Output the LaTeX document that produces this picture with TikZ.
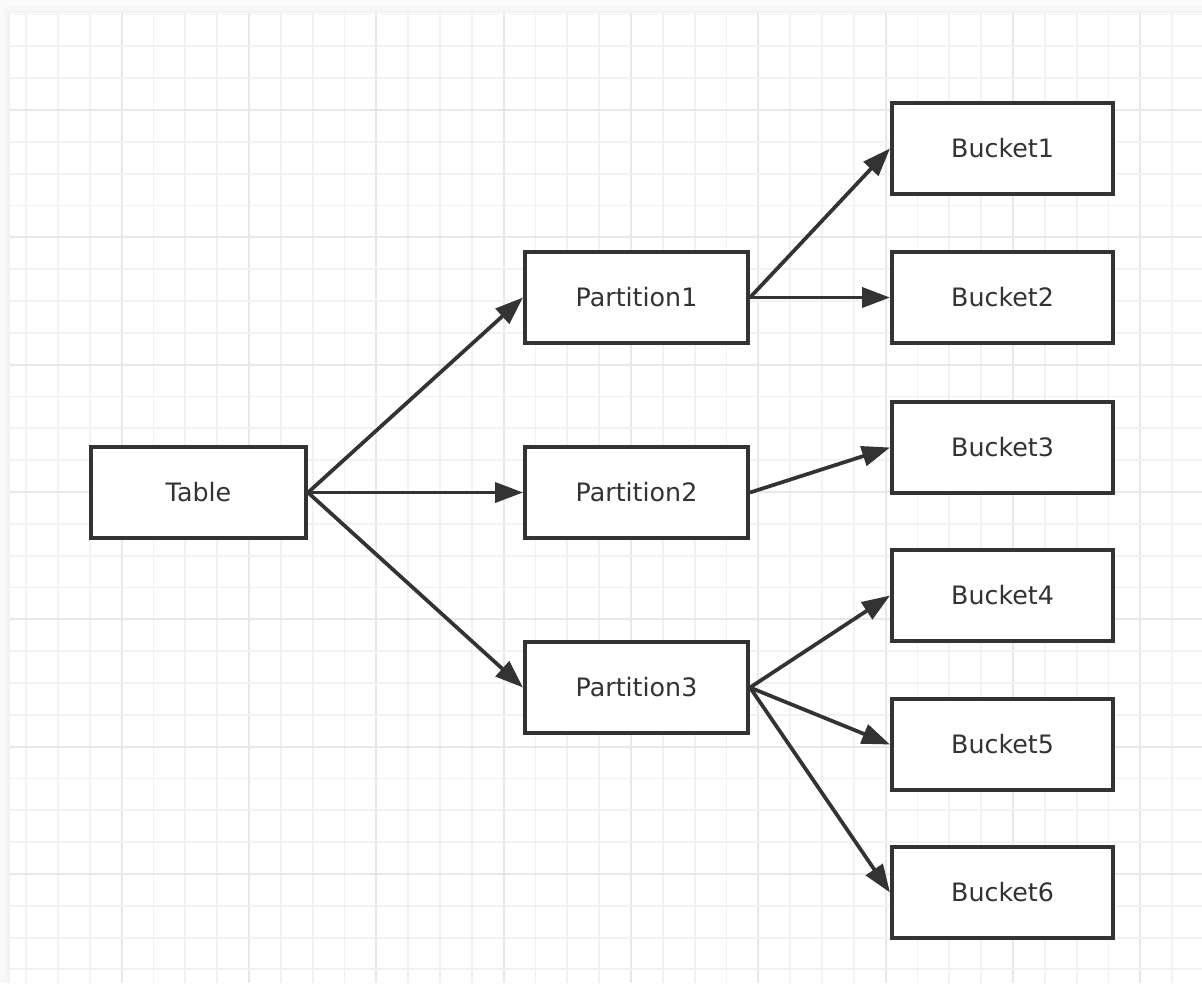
\documentclass[tikz,border=0pt]{standalone}
\usepackage{fontspec}
\setmainfont{DejaVu Sans}
\usetikzlibrary{arrows.meta}
\definecolor{ink}{HTML}{333333}
\definecolor{gridminor}{HTML}{F2F2F2}
\definecolor{gridmajor}{HTML}{E8E8E8}
\tikzset{
  box/.style={draw=ink, line width=3pt, fill=white, text=ink,
    minimum height=68.25pt, inner sep=0pt,
    font=\fontsize{19}{22}\selectfont},
  tablebox/.style={box, minimum width=161.25pt},
  partbox/.style={box, minimum width=167.25pt},
  bucketbox/.style={box, minimum width=165.75pt},
  link/.style={draw=ink, line width=2.8pt,
    -{Triangle[length=21pt,width=15pt]}},
}
\begin{document}
\begin{tikzpicture}[x=0.75pt, y=-0.75pt]
  \useasboundingbox (0,0) rectangle (1202,983);
  % page backdrop and the soft shadow along the canvas edges
  \fill[gray!4] (0,0) rectangle (1202,983);
  \fill[gray!6] (4,6) rectangle (1202,983);
  \fill[gray!9] (7,10) rectangle (1202,983);
  \fill[gray!12] (9,12) rectangle (1202,983);
  % canvas
  \fill[white] (10,13) rectangle (1202,983);
  \begin{scope}
    \clip (10,13) rectangle (1202,983);
    \foreach \i in {0,...,37} {
      \pgfmathsetmacro{\gx}{26.2+31.83*\i}
      \pgfmathtruncatemacro{\maj}{mod(\i+1,4)==0}
      \ifnum\maj=1
        \draw[gridmajor, line width=1.6pt] (\gx,13) -- (\gx,983);
      \else
        \draw[gridminor, line width=1.4pt] (\gx,13) -- (\gx,983);
      \fi
    }
    \foreach \j in {0,...,30} {
      \pgfmathsetmacro{\gy}{14.5+31.83*\j}
      \pgfmathtruncatemacro{\maj}{mod(\j+1,4)==0}
      \ifnum\maj=1
        \draw[gridmajor, line width=1.6pt] (10,\gy) -- (1202,\gy);
      \else
        \draw[gridminor, line width=1.4pt] (10,\gy) -- (1202,\gy);
      \fi
    }
  \end{scope}

  % boxes
  \node[tablebox] (table) at (198.5,492.5) {Table};
  \node[partbox] (p1) at (636.5,297.5) {Partition1};
  \node[partbox] (p2) at (636.5,492.5) {Partition2};
  \node[partbox] (p3) at (636.5,687.5) {Partition3};
  \node[bucketbox] (b1) at (1002.5,148.5) {Bucket1};
  \node[bucketbox] (b2) at (1002.5,297.5) {Bucket2};
  \node[bucketbox] (b3) at (1002.5,447.5) {Bucket3};
  \node[bucketbox] (b4) at (1002.5,595.5) {Bucket4};
  \node[bucketbox] (b5) at (1002.5,744.5) {Bucket5};
  \node[bucketbox] (b6) at (1002.5,892.5) {Bucket6};

  % connectors
  \draw[link] (table.east) -- (p1.west);
  \draw[link] (table.east) -- (p2.west);
  \draw[link] (table.east) -- (p3.west);
  \draw[link] (p1.east) -- (b1.west);
  \draw[link] (p1.east) -- (b2.west);
  \draw[link] (p2.east) -- (b3.west);
  \draw[link] (p3.east) -- (b4.west);
  \draw[link] (p3.east) -- (b5.west);
  \draw[link] (p3.east) -- (b6.west);
\end{tikzpicture}
\end{document}
